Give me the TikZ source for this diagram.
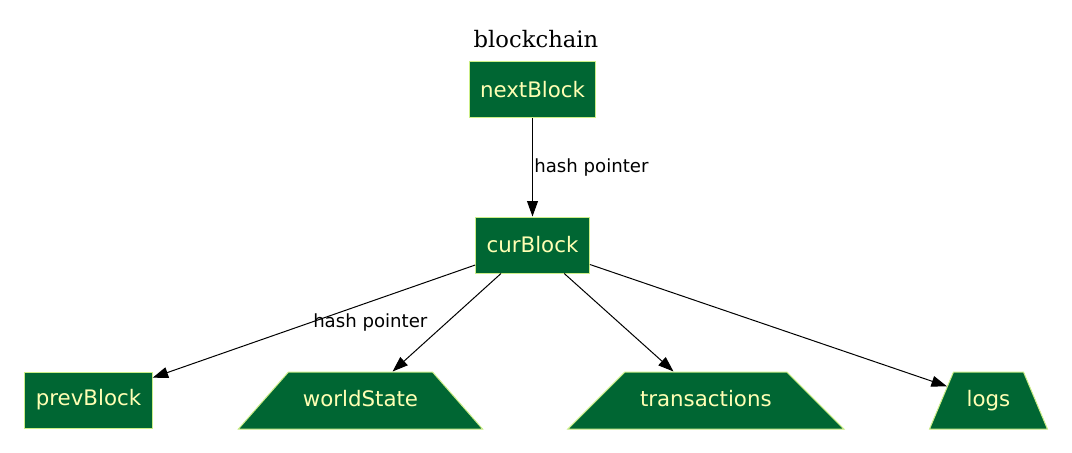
\documentclass[tikz,border=0pt]{standalone}
\usepackage{fontspec}
\usepackage{xcolor}
\usepackage{tikz}
\usetikzlibrary{shapes.geometric, arrows.meta, positioning}
\newfontfamily\nodefont{DejaVu Sans}
\newfontfamily\titlefont{DejaVu Serif}
\definecolor{blockgreen}{HTML}{006633}
\definecolor{blockedge}{HTML}{CCEE88}
\definecolor{blocktext}{HTML}{FFFFB4}

\begin{document}
\begin{tikzpicture}[
    x=0.75pt, y=-0.75pt,
    node distance=73.5pt,
    box/.style={rectangle, draw=blockedge, fill=blockgreen, text=blocktext, line width=0.75pt, minimum height=42pt, inner xsep=8.25pt, font=\nodefont\fontsize{16}{19}\selectfont},
    trap/.style={box, trapezium, inner xsep=0pt, text height=12pt, text depth=3.5pt, inner ysep=13.625pt, align=center},
    lbl/.style={font=\nodefont\fontsize{13.6}{16}\selectfont, inner sep=1pt},
    arrow/.style={-{Triangle[length=11.6pt,width=8.2pt]}, line width=0.75pt}
]
\useasboundingbox (0,0) rectangle (1072,453);

% Blocks
\node[box] (next) at (532.5,90) {nextBlock};
\node[font=\titlefont\fontsize{17}{20}\selectfont, inner sep=0pt, above=9.75pt of next, xshift=2.6pt] (title) {blockchain};
\node[box, below=of next] (cur) {curBlock};

% Contents of the current block
\node[box, below=of cur, xshift=-333pt] (prev) {prevBlock};
\node[trap, below=of cur, xshift=-129pt, text width=108pt, trapezium angle=48.7] (world) {worldState};
\node[trap, below=of cur, xshift=130pt, text width=121.5pt, trapezium angle=45] (trans) {transactions};
\node[trap, below=of cur, xshift=342pt, text width=52.5pt, trapezium angle=67.2] (logs) {logs};

% Arrows
\draw[arrow] (next) -- node[lbl, right] {hash pointer} (cur);
\draw[arrow] (cur) -- node[lbl, pos=0.325, below=7.5pt] {hash pointer} (prev);
\draw[arrow] (cur) -- (world);
\draw[arrow] (cur) -- (trans);
\draw[arrow] (cur) -- (logs);
\end{tikzpicture}
\end{document}
